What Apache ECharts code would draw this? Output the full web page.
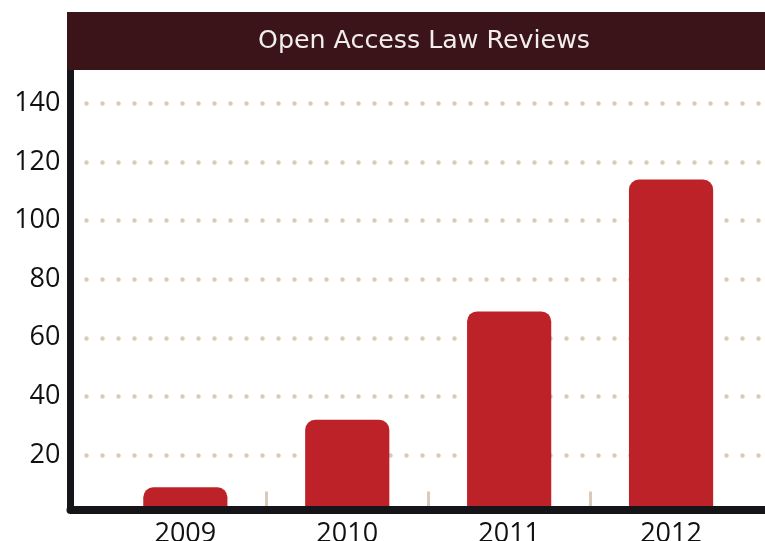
<!DOCTYPE html>
<html>
<head>
<meta charset="utf-8">
<script src="https://cdn.jsdelivr.net/npm/echarts@6/dist/echarts.min.js"></script>
<style>
html,body{margin:0;padding:0;background:#fff;}
#chart{width:765px;height:541px;}
</style>
</head>
<body>
<div id="chart"></div>
<script>
const titleText = 'Open Access Law Reviews';
const categories = ['2009', '2010', '2011', '2012'];
const reviewCounts = [9, 32, 69, 114];
const yTicks = { min: 0, max: 140, interval: 20 };
const tickPositions = [1, 2, 3];

const FONT = 'Open Sans';
const chart = echarts.init(document.getElementById('chart'), null, { renderer: 'canvas' });

const option = {
  backgroundColor: '#ffffff',
  animation: false,
  title: {
    text: titleText,
    left: 67,
    top: 12,
    z: 20,
    padding: [14, 260, 14, 191],
    backgroundColor: '#3a1419',
    textStyle: { color: '#f3eeee', fontFamily: 'DejaVu Sans', fontSize: 25.3, fontWeight: 'normal', lineHeight: 30 }
  },
  grid: [
    // frame (axis lines)
    { left: 70.5, right: -30, top: 66, bottom: 31.4, outerBoundsMode: 'none', containLabel: false },
    // bars
    { left: 104.4, right: 13, top: 103.3, bottom: 27.4, outerBoundsMode: 'none', containLabel: false },
    // labels + dotted gridlines
    { left: 70.5, right: -30, top: 103.3, bottom: 27.4, outerBoundsMode: 'none', containLabel: false }
  ],
  xAxis: [
    {
      gridIndex: 0, type: 'value', min: 0, max: 1, z: 10,
      axisLine: { show: true, lineStyle: { color: '#151419', width: 8, cap: 'round' } },
      axisTick: { show: false }, axisLabel: { show: false }, splitLine: { show: false }
    },
    {
      gridIndex: 1, type: 'category', data: categories, position: 'bottom',
      axisLine: { show: false }, axisTick: { show: false },
      axisLabel: { color: '#111111', fontFamily: FONT, fontSize: 27, margin: 7 },
      splitLine: { show: false }
    },
    {
      gridIndex: 1, type: 'value', min: 0, max: categories.length, interval: 1, position: 'bottom',
      axisLine: { show: false },
      axisTick: { show: true, inside: true, length: 22, customValues: tickPositions,
                  lineStyle: { color: '#d9cabb', width: 3 } },
      axisLabel: { show: false }, splitLine: { show: false }
    },
    {
      gridIndex: 2, type: 'value', min: 0, max: 1, show: false
    }
  ],
  yAxis: [
    {
      gridIndex: 0, type: 'value', min: 0, max: 1, z: 10,
      axisLine: { show: true, lineStyle: { color: '#151419', width: 7, cap: 'round' } },
      axisTick: { show: false }, axisLabel: { show: false }, splitLine: { show: false }
    },
    {
      gridIndex: 1, type: 'value', min: yTicks.min, max: yTicks.max, interval: yTicks.interval, show: false
    },
    {
      gridIndex: 2, type: 'value', min: yTicks.min, max: yTicks.max, interval: yTicks.interval,
      axisLine: { show: false }, axisTick: { show: false },
      axisLabel: { color: '#111111', fontFamily: FONT, fontSize: 27, margin: 10, showMinLabel: false },
      splitLine: { show: true, showMinLine: false,
                   lineStyle: { color: '#d9cabb', width: 4.5, type: [0, 16], cap: 'round' } }
    }
  ],
  series: [
    {
      type: 'bar',
      xAxisIndex: 1,
      yAxisIndex: 1,
      data: reviewCounts,
      barWidth: '52%',
      itemStyle: { color: '#be2229', borderRadius: [10, 10, 0, 0] }
    }
  ]
};
chart.setOption(option);
</script>
</body>
</html>
